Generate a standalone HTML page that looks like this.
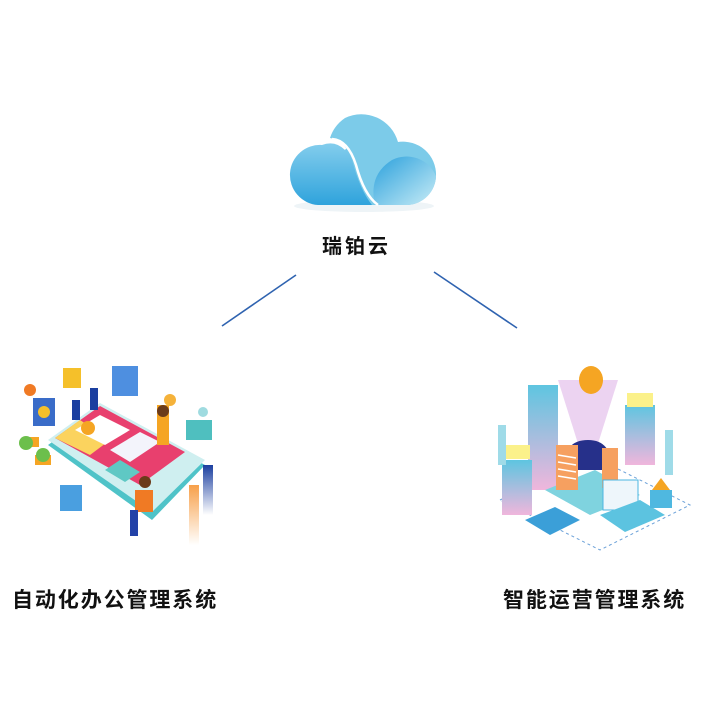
<!DOCTYPE html>
<html><head><meta charset="utf-8"><style>
html,body{margin:0;padding:0;background:#fff;}
.t{position:absolute;font-family:"Liberation Sans","Noto Sans CJK SC",sans-serif;color:#111;font-weight:bold;white-space:nowrap;}
</style></head><body>
<div style="position:relative;width:702px;height:702px;overflow:hidden;">
<svg width="702" height="702" style="position:absolute;left:0;top:0">
<defs>
<linearGradient id="c1" x1="0" y1="0" x2="0" y2="1"><stop offset="0" stop-color="#8fd3ef"/><stop offset="1" stop-color="#2fa3dc"/></linearGradient>
<linearGradient id="c2" x1="0" y1="0" x2="1" y2="1"><stop offset="0" stop-color="#2aa0dc"/><stop offset="1" stop-color="#c8ecf6"/></linearGradient>
<linearGradient id="tw" x1="0" y1="0" x2="0" y2="1"><stop offset="0" stop-color="#5ec5e0"/><stop offset="1" stop-color="#f0b6dc"/></linearGradient>
<linearGradient id="or" x1="0" y1="0" x2="0" y2="1"><stop offset="0" stop-color="#f7a04a"/><stop offset="1" stop-color="#fff"/></linearGradient>
<linearGradient id="bl" x1="0" y1="0" x2="0" y2="1"><stop offset="0" stop-color="#1b3fa0"/><stop offset="1" stop-color="#fff"/></linearGradient>
</defs>
<ellipse cx="364" cy="206" rx="70" ry="6" fill="#eef4f7"/>
<path d="M318 205 A30 30 0 0 1 322 145 Q335 140 345 150 A38 38 0 0 1 398 142 A32 32 0 0 1 408 205 Z" fill="url(#c1)"/>
<path d="M345 118 A38 38 0 0 1 398 142 A33 33 0 0 1 436 176 A30 30 0 0 1 408 205 L372 205 Q360 190 352 160 Q345 140 330 138 A38 38 0 0 1 345 118Z" fill="#7ccbe9"/>
<path d="M375 205 Q368 175 392 160 A32 32 0 0 1 436 176 A30 30 0 0 1 408 205 Z" fill="url(#c2)"/>
<path d="M332 139 Q348 140 356 165 Q364 195 378 205" stroke="#fff" stroke-width="2.5" fill="none"/>
<line x1="296" y1="275" x2="222" y2="326" stroke="#2f63b0" stroke-width="1.6"/>
<line x1="434" y1="272" x2="517" y2="328" stroke="#2f63b0" stroke-width="1.6"/>
<polygon points="48,445 100,408 205,465 152,520" fill="#4fc3c8"/>
<polygon points="48,440 100,403 205,460 152,512" fill="#cfeff0"/>
<polygon points="55,438 100,406 185,452 140,485" fill="#e8406e"/>
<polygon points="55,438 80,420 110,440 90,455" fill="#fbd35e"/>
<polygon points="75,430 100,415 130,430 105,445" fill="#fff"/>
<circle cx="88" cy="428" r="7" fill="#f5a523"/>
<polygon points="110,450 140,432 160,442 130,462" fill="#f3f4fb"/>
<polygon points="105,470 120,460 140,472 125,482" fill="#5fc8c4"/>
<rect x="23" y="437" width="16" height="10" fill="#f5a523"/><circle cx="26" cy="443" r="7" fill="#6cbf4c"/>
<rect x="35" y="455" width="16" height="10" fill="#f5a523"/><circle cx="43" cy="455" r="7" fill="#6cbf4c"/>
<rect x="33" y="398" width="22" height="28" fill="#3a6cc8"/><circle cx="44" cy="412" r="6" fill="#f5c02a"/>
<rect x="63" y="368" width="18" height="20" fill="#f5c02a"/>
<rect x="112" y="366" width="26" height="30" fill="#4e8fe0"/>
<rect x="72" y="400" width="8" height="20" fill="#1b3fa0"/><rect x="90" y="388" width="8" height="22" fill="#1b3fa0"/>
<rect x="60" y="485" width="22" height="26" fill="#4a9fe0"/>
<rect x="186" y="420" width="26" height="20" fill="#4fbfbf"/>
<rect x="157" y="405" width="12" height="40" fill="#f5a523"/><circle cx="163" cy="411" r="6" fill="#6b3b1a"/>
<rect x="135" y="490" width="18" height="22" fill="#f07a24"/><circle cx="145" cy="482" r="6" fill="#6b3b1a"/>
<rect x="130" y="510" width="8" height="26" fill="#2342a8"/>
<rect x="189" y="485" width="10" height="60" fill="url(#or)"/>
<rect x="203" y="465" width="10" height="50" fill="url(#bl)"/>
<circle cx="30" cy="390" r="6" fill="#f07a24"/><circle cx="170" cy="400" r="6" fill="#f5b23a"/><circle cx="203" cy="412" r="5" fill="#9fdbe0"/>
<polygon points="500,500 590,455 690,505 600,550" fill="none" stroke="#6aa0d8" stroke-dasharray="3,3"/>
<rect x="528" y="385" width="30" height="105" fill="url(#tw)"/>
<rect x="502" y="460" width="30" height="55" fill="url(#tw)"/><rect x="504" y="445" width="26" height="14" fill="#fbf18a"/>
<rect x="625" y="405" width="30" height="60" fill="url(#tw)"/><rect x="627" y="393" width="26" height="14" fill="#fbf18a"/>
<polygon points="558,380 618,380 596,450 580,450" fill="#e7c8ee" opacity="0.8"/>
<ellipse cx="591" cy="380" rx="12" ry="14" fill="#f5a523"/>
<polygon points="545,490 595,470 640,495 590,515" fill="#7fd3df"/>
<path d="M563 470 Q563 440 588 440 Q612 440 612 470 Z" fill="#26308a"/>
<rect x="556" y="445" width="22" height="45" fill="#f6a060"/><rect x="602" y="448" width="16" height="40" fill="#f6a060"/>
<g stroke="#fff" stroke-width="1.5"><line x1="558" y1="455" x2="576" y2="458"/><line x1="558" y1="462" x2="576" y2="465"/><line x1="558" y1="469" x2="576" y2="472"/><line x1="558" y1="476" x2="576" y2="479"/></g>
<rect x="603" y="480" width="35" height="30" fill="#eef6fb" stroke="#4cb6e0"/>
<polygon points="600,515 640,500 665,515 625,532" fill="#5cc3e0"/>
<polygon points="525,520 555,507 580,520 550,535" fill="#3b9fd8"/>
<rect x="650" y="490" width="22" height="18" fill="#4fb8e0"/><polygon points="652,490 661,478 670,490" fill="#f5a523"/>
<rect x="665" y="430" width="8" height="45" fill="#9fdbe8"/><rect x="498" y="425" width="8" height="40" fill="#9fdbe8"/>
</svg>
<div class="t" style="left:322px;top:230px;font-size:20px;letter-spacing:3px;">瑞铂云</div>
<div class="t" style="left:12px;top:584px;font-size:21px;letter-spacing:1.9px;">自动化办公管理系统</div>
<div class="t" style="left:503px;top:584px;font-size:21px;letter-spacing:1.9px;">智能运营管理系统</div>
</div>
</body></html>
